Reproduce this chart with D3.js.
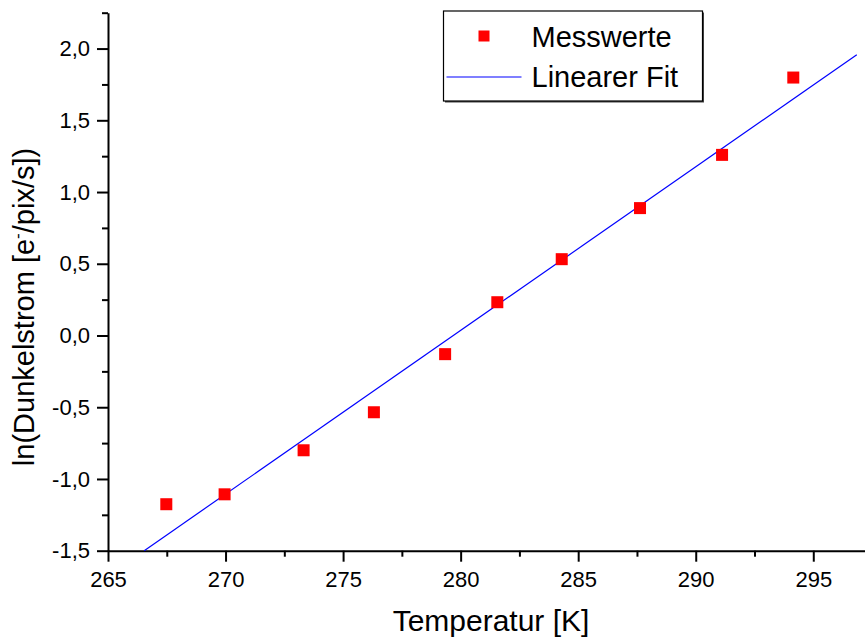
<!DOCTYPE html>
<html>
<head>
<meta charset="utf-8">
<script src="https://cdn.jsdelivr.net/npm/d3@7"></script>
<style>
  body { margin: 0; background: #fff; }
  svg { display: block; font-family: Arial, "Liberation Sans", sans-serif; }
  .axis path, .axis line { stroke: #000; }
</style>
</head>
<body>
<svg id="chart" width="865" height="637"></svg>
<script>
// measured values
var temps = [267.48, 269.96, 273.32, 276.31, 279.34, 281.56, 284.30, 287.63, 291.12, 294.15];
var lnCurrent = [-1.176, -1.107, -0.800, -0.535, -0.130, 0.232, 0.532, 0.888, 1.259, 1.798];

// fit line end points
var fitT = [266.54, 296.85];
var fitLn = [-1.5, 1.957];

var xTicks = [265, 270, 275, 280, 285, 290, 295];
var xMinor = [267.5, 272.5, 277.5, 282.5, 287.5, 292.5];
var yTicks = [-1.5, -1.0, -0.5, 0.0, 0.5, 1.0, 1.5, 2.0];
var yMinor = [-1.25, -0.75, -0.25, 0.25, 0.75, 1.25, 1.75, 2.25];

var legendLabels = ["Messwerte", "Linearer Fit"];

var svg = d3.select("#chart");

var x = d3.scaleLinear().domain([265, 297.2]).range([108, 865]);
var y = d3.scaleLinear().domain([-1.5, 2.25]).range([550.7, 12.7]);

var fmt = function(v){ return v.toFixed(1).replace(".", ","); };

// minor ticks
svg.append("g")
    .attr("class", "axis")
    .attr("transform", "translate(0," + y(-1.5) + ")")
    .call(d3.axisBottom(x).tickValues(xMinor).tickSize(6).tickFormat(""))
    .call(function(g){ g.select(".domain").remove(); })
    .selectAll("line").attr("stroke-width", 2);

svg.append("g")
    .attr("class", "axis")
    .attr("transform", "translate(" + x(265) + ",0)")
    .call(d3.axisLeft(y).tickValues(yMinor).tickSize(6).tickFormat(""))
    .call(function(g){ g.select(".domain").remove(); })
    .selectAll("line").attr("stroke-width", 2);

// major ticks
var xAxis = svg.append("g")
    .attr("class", "axis")
    .attr("transform", "translate(0," + y(-1.5) + ")")
    .call(d3.axisBottom(x).tickValues(xTicks).tickSize(11).tickSizeOuter(0).tickPadding(10)
        .tickFormat(function(d){ return d; }));
xAxis.select(".domain").attr("stroke-width", 2);
xAxis.selectAll("line").attr("stroke-width", 2);
xAxis.selectAll("text").attr("font-size", 22).attr("fill", "#000")
    .attr("font-family", "Arial, 'Liberation Sans', sans-serif");

var yAxis = svg.append("g")
    .attr("class", "axis")
    .attr("transform", "translate(" + x(265) + ",0)")
    .call(d3.axisLeft(y).tickValues(yTicks).tickSize(11).tickSizeOuter(0).tickPadding(7)
        .tickFormat(fmt));
yAxis.select(".domain").attr("stroke-width", 2);
yAxis.selectAll("line").attr("stroke-width", 2);
yAxis.selectAll("text").attr("font-size", 22).attr("fill", "#000")
    .attr("font-family", "Arial, 'Liberation Sans', sans-serif");

// axis titles
svg.append("text")
    .attr("x", 491)
    .attr("y", 631)
    .attr("text-anchor", "middle")
    .attr("font-size", 30)
    .text("Temperatur [K]");

var yt = svg.append("text")
    .attr("transform", "translate(34," + 307 + ") rotate(-90)")
    .attr("text-anchor", "middle")
    .attr("font-size", 29);
yt.append("tspan").text("ln(Dunkelstrom [e");
yt.append("tspan").attr("font-size", 17).attr("dy", -11).text("-");
yt.append("tspan").attr("dy", 11).text("/pix/s])");

// fit line
var line = d3.line()
    .x(function(d){ return x(d[0]); })
    .y(function(d){ return y(d[1]); });

svg.append("path")
    .datum(d3.zip(fitT, fitLn))
    .attr("d", line)
    .attr("fill", "none")
    .attr("stroke", "#0000ff")
    .attr("stroke-width", 1.2);

// points
var sz = 12;
svg.selectAll(".pt")
    .data(d3.zip(temps, lnCurrent))
    .enter()
    .append("rect")
    .attr("class", "pt")
    .attr("x", function(d){ return x(d[0]) - sz / 2; })
    .attr("y", function(d){ return y(d[1]) - sz / 2; })
    .attr("width", sz)
    .attr("height", sz)
    .attr("fill", "#ff0000");

// legend
var lg = svg.append("g").attr("transform", "translate(443.5,11)");
lg.append("rect")
    .attr("x", 1.5).attr("y", 1.5)
    .attr("width", 259).attr("height", 90)
    .attr("fill", "#444");
lg.append("rect")
    .attr("width", 259).attr("height", 90)
    .attr("fill", "#fff")
    .attr("stroke", "#000")
    .attr("stroke-width", 1.2);
lg.append("rect")
    .attr("x", 40.5 - 5.5).attr("y", 25 - 5.5)
    .attr("width", 11).attr("height", 11)
    .attr("fill", "#ff0000");
lg.append("line")
    .attr("x1", 3).attr("x2", 78)
    .attr("y1", 66).attr("y2", 66)
    .attr("stroke", "#0000ff")
    .attr("stroke-width", 1.2);
lg.selectAll(".lt")
    .data(legendLabels)
    .enter()
    .append("text")
    .attr("class", "lt")
    .attr("x", 88)
    .attr("y", function(d, i){ return 35.5 + i * 40.5; })
    .attr("font-size", 29)
    .text(function(d){ return d; });
</script>
</body>
</html>
